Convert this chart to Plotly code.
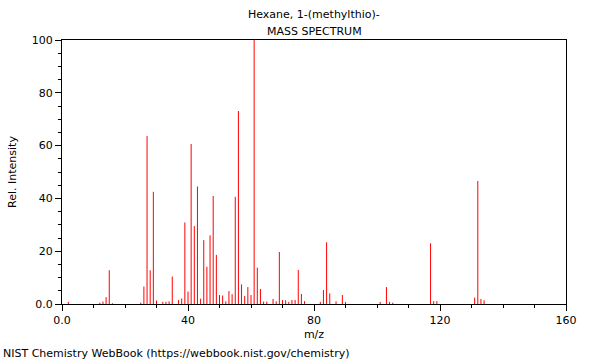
import plotly.graph_objects as go

# m/z values and relative intensities
mz = [2, 12, 13, 14, 15, 16, 25, 26, 27, 28, 29, 30, 32, 33, 34, 35, 37, 38, 39, 40,
      41, 42, 43, 44, 45, 46, 47, 48, 49, 50, 51, 52, 53, 54, 55, 56, 57, 58, 59, 60,
      61, 62, 63, 64, 65, 67, 68, 69, 70, 71, 72, 73, 74, 75, 76, 77, 82, 83, 84, 85,
      87, 89, 90, 101, 103, 104, 105, 117, 118, 119, 131, 132, 133, 134]
intensity = [0.8, 0.5, 0.9, 2.6, 12.8, 0.3, 0.5, 6.6, 63.6, 12.8, 42.5, 1.3, 0.8, 0.8, 1.0, 10.4, 1.5, 2.1, 30.9, 4.7,
             60.6, 29.5, 44.5, 2.0, 24.2, 14.1, 26.0, 40.9, 18.6, 3.4, 3.2, 1.0, 4.9, 3.7, 40.6, 73.1, 7.4, 3.0, 6.4, 3.4,
             100.0, 13.8, 5.7, 0.9, 0.9, 1.9, 1.0, 19.7, 1.5, 1.4, 0.8, 1.5, 1.5, 12.9, 3.8, 1.1, 0.8, 5.3, 23.4, 4.0,
             1.0, 3.4, 0.8, 0.8, 6.4, 0.8, 0.5, 23.0, 1.1, 1.1, 2.4, 46.6, 1.9, 1.4]

x_ticks = [0, 40, 80, 120, 160]
x_ticklabels = ["0.0", "40", "80", "120", "160"]
y_ticks = [0, 20, 40, 60, 80, 100]
y_ticklabels = ["0.0", "20", "40", "60", "80", "100"]

title_line1 = "Hexane, 1-(methylthio)-"
title_line2 = "MASS SPECTRUM"
x_title = "m/z"
y_title = "Rel. Intensity"
footer = "NIST Chemistry WebBook (https://webbook.nist.gov/chemistry)"

xs, ys = [], []
for m, v in zip(mz, intensity):
    xs += [m, m, None]
    ys += [0, v, None]

FONT = "DejaVu Sans"

fig = go.Figure()
fig.add_trace(go.Scatter(x=xs, y=ys, mode="lines",
                         line=dict(color="#ff0000", width=1),
                         hoverinfo="skip", showlegend=False))

fig.update_layout(
    width=600, height=360,
    margin=dict(l=62, r=34, t=40, b=56),
    paper_bgcolor="white", plot_bgcolor="white",
    font=dict(family=FONT, size=11, color="black"),
    annotations=[
        dict(text=title_line1, x=0.5, y=1, xref="paper", yref="paper",
             xanchor="center", yanchor="bottom", yshift=17, showarrow=False,
             font=dict(family=FONT, size=11)),
        dict(text=title_line2, x=0.5, y=1, xref="paper", yref="paper",
             xanchor="center", yanchor="bottom", yshift=0, showarrow=False,
             font=dict(family=FONT, size=11)),
        dict(text=footer, x=0, y=0, xref="paper", yref="paper",
             xanchor="left", yanchor="top", xshift=-61, yshift=-41, showarrow=False,
             font=dict(family=FONT, size=11)),
    ],
)
fig.update_xaxes(
    range=[0, 160], showgrid=False, zeroline=False,
    showline=True, linecolor="black", linewidth=1, mirror=True,
    tickmode="array", tickvals=x_ticks, ticktext=x_ticklabels,
    ticks="outside", ticklen=6, tickcolor="black",
    minor=dict(dtick=10, tick0=0, ticks="outside", ticklen=3, tickcolor="black"),
    title=dict(text=x_title, standoff=4, font=dict(family=FONT, size=11)),
    tickfont=dict(family=FONT, size=11),
)
fig.update_yaxes(
    range=[0, 100], showgrid=False, zeroline=False,
    showline=True, linecolor="black", linewidth=1, mirror=True,
    tickmode="array", tickvals=y_ticks, ticktext=y_ticklabels,
    ticks="outside", ticklen=6, tickcolor="black",
    minor=dict(dtick=5, tick0=0, ticks="outside", ticklen=3, tickcolor="black"),
    title=dict(text=y_title, standoff=12, font=dict(family=FONT, size=11)),
    tickfont=dict(family=FONT, size=11),
)

fig.write_html("out.html", config={"displayModeBar": False, "staticPlot": True},
               post_script="document.body.style.margin='0';document.body.style.padding='0';")
